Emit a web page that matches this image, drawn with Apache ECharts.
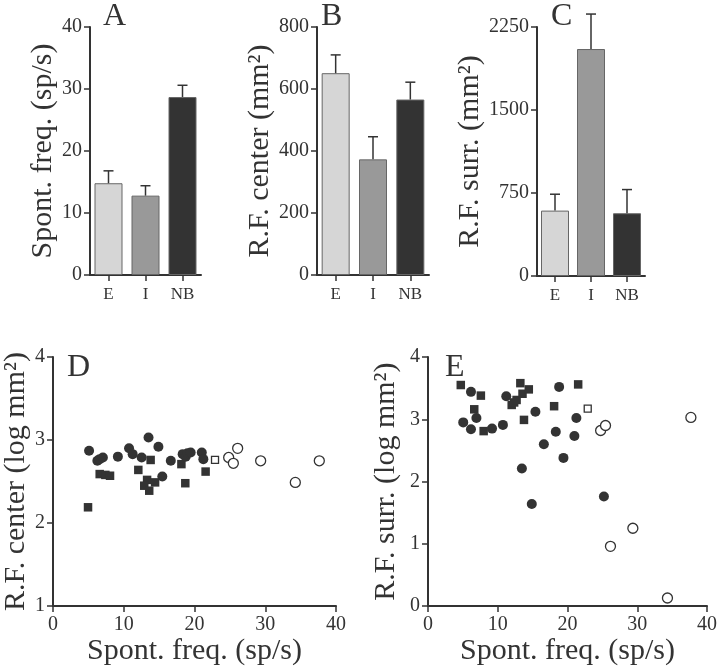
<!DOCTYPE html>
<html><head><meta charset="utf-8">
<script src="https://cdn.jsdelivr.net/npm/echarts@6/dist/echarts.min.js"></script>
<style>html,body{margin:0;padding:0;background:#fff}#c{width:720px;height:667px}</style>
</head><body><div id="c"></div>
<script>
// ---- data ----
const groups = ['E', 'I', 'NB'];
const spontMean = [14.8, 12.8, 28.7];
const spontErr = [16.8, 14.4, 30.6];
const centerMean = [651, 373, 566];
const centerErr = [710, 446, 622];
const surrMean = [591, 2051, 567];
const surrErr = [739, 2367, 781];
const barColors = ['#d6d6d6', '#999999', '#333333'];

const dFilledCircles = [[5.1,2.87],[6.27,2.75],[6.6,2.77],[7.05,2.79],[9.17,2.80],[10.75,2.90],[11.26,2.83],[12.53,2.79],[13.5,3.03],[14.9,2.92],[15.45,2.56],[16.65,2.75],[18.33,2.83],[18.75,2.80],[19.0,2.84],[19.46,2.85],[21.03,2.85],[21.25,2.77]];
const dFilledSquares = [[4.95,2.19],[6.6,2.59],[7.4,2.58],[8.06,2.57],[12.06,2.64],[13.3,2.52],[12.9,2.45],[13.6,2.39],[13.8,2.76],[14.43,2.49],[18.15,2.71],[18.7,2.48],[21.57,2.62]];
const dOpenSquares = [[22.9,2.76]];
const dOpenCircles = [[24.83,2.79],[26.1,2.9],[25.49,2.72],[29.35,2.75],[34.25,2.49],[37.64,2.75]];

const eFilledCircles = [[5.05,2.95],[6.16,2.84],[6.16,3.44],[6.94,3.02],[9.18,2.85],[10.74,2.91],[11.22,3.37],[13.46,2.21],[14.88,1.64],[15.4,3.12],[16.61,2.6],[18.32,2.8],[18.8,3.52],[19.42,2.38],[20.99,2.73],[21.27,3.02],[25.22,1.76]];
const eFilledSquares = [[4.7,3.55],[7.58,3.38],[6.63,3.16],[7.98,2.81],[12.0,3.23],[12.35,3.27],[12.7,3.31],[13.55,3.41],[13.24,3.58],[14.45,3.48],[13.76,2.99],[18.08,3.21],[21.53,3.56]];
const eOpenSquares = [[22.9,3.17]];
const eOpenCircles = [[24.75,2.82],[25.45,2.9],[37.69,3.03],[29.37,1.25],[26.16,0.96],[34.33,0.13]];

const spontTicks = {min: 0, max: 40, interval: 10};
const centerTicks = {min: 0, max: 800, interval: 200};
const surrTicks = {min: 0, max: 2250, interval: 750};
const logCenterTicks = {min: 1, max: 4, interval: 1};
const logSurrTicks = {min: 0, max: 4, interval: 1};
const freqTicks = {min: 0, max: 40, interval: 10};

// ---- style ----
const FONT = "'Liberation Serif', 'Times New Roman', serif";
const INK = '#333';
const axisLine = {show: true, lineStyle: {color: INK, width: 2}};
const axisTick = {show: true, length: 6, lineStyle: {color: INK, width: 1.5}};
const tickLabel = {color: INK, fontFamily: FONT, fontSize: 20, margin: 8, formatter: v => String(v)};
const nameStyle = {color: INK, fontFamily: FONT, fontSize: 30};

function catAxis(idx) {
  return {
    type: 'category', gridIndex: idx, data: groups,
    axisLine: axisLine,
    axisTick: {show: true, alignWithLabel: true, interval: 0, length: 6, lineStyle: {color: INK, width: 1.5}},
    axisLabel: {color: INK, fontFamily: FONT, fontSize: 17, margin: 11, interval: 0},
    splitLine: {show: false}
  };
}
function valAxis(idx, ticks, name, gap) {
  return {
    type: 'value', gridIndex: idx, min: ticks.min, max: ticks.max, interval: ticks.interval,
    name: name, nameLocation: 'middle', nameGap: gap, nameTextStyle: nameStyle,
    axisLine: axisLine, axisTick: axisTick, axisLabel: tickLabel, splitLine: {show: false}
  };
}
function barSeries(idx, means) {
  return {
    type: 'bar', xAxisIndex: idx, yAxisIndex: idx, barWidth: 28,
    data: means.map((v, i) => ({value: v, itemStyle: {color: barColors[i], borderColor: '#666', borderWidth: 1}}))
  };
}
function errSeries(idx, means, errs) {
  return {
    type: 'custom', xAxisIndex: idx, yAxisIndex: idx, z: 3,
    data: means.map((v, i) => [i, v, errs[i]]),
    renderItem: function (params, api) {
      const i = api.value(0);
      const lo = api.coord([i, api.value(1)]);
      const hi = api.coord([i, api.value(2)]);
      return {type: 'group', children: [
        {type: 'line', shape: {x1: lo[0], y1: lo[1], x2: hi[0], y2: hi[1]}, style: {stroke: INK, lineWidth: 1.5}},
        {type: 'line', shape: {x1: hi[0] - 5, y1: hi[1], x2: hi[0] + 5, y2: hi[1]}, style: {stroke: INK, lineWidth: 1.5}}
      ]};
    }
  };
}
function scatter(idx, data, symbol, size, open) {
  return {
    type: 'scatter', xAxisIndex: idx, yAxisIndex: idx, data: data, symbol: symbol, symbolSize: size,
    itemStyle: open ? {color: '#fff', borderColor: INK, borderWidth: 1.3, opacity: 1} : {color: INK, opacity: 1}
  };
}
function titleAt(text, left, top) {
  return {text: text, left: left, top: top, textStyle: {fontFamily: FONT, fontSize: 32, fontWeight: 'normal', color: INK}};
}
function freqAxis(idx) {
  return {
    type: 'value', gridIndex: idx, min: freqTicks.min, max: freqTicks.max, interval: freqTicks.interval,
    name: 'Spont. freq. (sp/s)', nameLocation: 'middle', nameGap: 24, nameTextStyle: nameStyle,
    axisLine: axisLine, axisTick: axisTick, axisLabel: Object.assign({}, tickLabel, {margin: 9}), splitLine: {show: false}
  };
}

const chart = echarts.init(document.getElementById('c'), null, {renderer: 'canvas'});
chart.setOption({
  animation: false,
  backgroundColor: '#fff',
  title: [titleAt('A', 98, -4), titleAt('B', 316, -4), titleAt('C', 546, -4), titleAt('D', 62, 347), titleAt('E', 440, 347)],
  grid: [
    {left: 90, top: 27, width: 111, height: 248},
    {left: 317, top: 27, width: 112, height: 248},
    {left: 537, top: 27, width: 108, height: 249},
    {left: 53, top: 357, width: 283, height: 250},
    {left: 428, top: 357, width: 282, height: 250}
  ],
  xAxis: [catAxis(0), catAxis(1), catAxis(2), freqAxis(3), freqAxis(4)],
  yAxis: [
    valAxis(0, spontTicks, 'Spont. freq. (sp/s)', 31),
    valAxis(1, centerTicks, 'R.F. center (mm²)', 41),
    valAxis(2, surrTicks, 'R.F. surr. (mm²)', 47),
    valAxis(3, logCenterTicks, 'R.F. center (log mm²)', 22),
    valAxis(4, logSurrTicks, 'R.F. surr. (log mm²)', 27)
  ],
  series: [
    barSeries(0, spontMean), errSeries(0, spontMean, spontErr),
    barSeries(1, centerMean), errSeries(1, centerMean, centerErr),
    barSeries(2, surrMean), errSeries(2, surrMean, surrErr),
    scatter(3, dFilledSquares, 'rect', 8.5, false),
    scatter(3, dFilledCircles, 'circle', 10, false),
    scatter(3, dOpenSquares, 'rect', 7, true),
    scatter(3, dOpenCircles, 'circle', 10, true),
    scatter(4, eFilledSquares, 'rect', 8.5, false),
    scatter(4, eFilledCircles, 'circle', 10, false),
    scatter(4, eOpenSquares, 'rect', 7, true),
    scatter(4, eOpenCircles, 'circle', 10, true)
  ]
});
</script>
</body></html>
